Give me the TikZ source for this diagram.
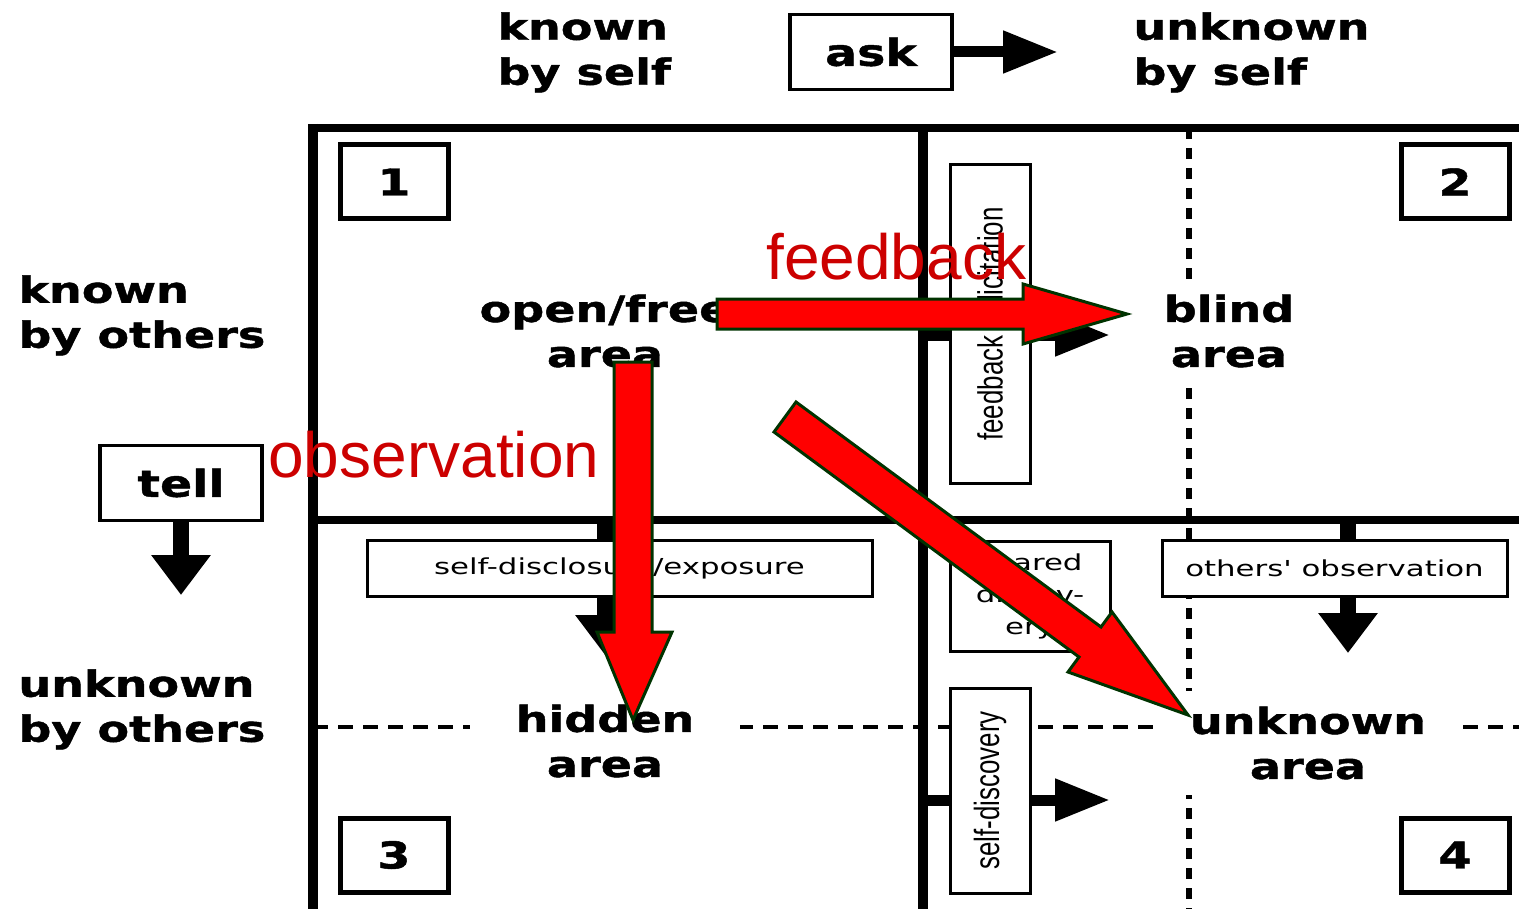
\documentclass[tikz,border=0pt]{standalone}
\usepackage{fontspec}
\setmainfont{DejaVu Sans}[FakeStretch=1.4]
\newfontfamily\headfont{DejaVu Sans Bold}[FakeStretch=1.28, FakeBold=1.2]
\newfontfamily\notefont{DejaVu Sans}[FakeStretch=1.4]
\newfontfamily\rotfont{Liberation Sans}[FakeStretch=0.74]
\newfontfamily\redfont{Liberation Sans}
\usetikzlibrary{arrows.meta}
\definecolor{markred}{RGB}{204,0,0}
\definecolor{edgegreen}{RGB}{0,51,0}
\tikzset{
  gridline/.style={line width=4pt, line join=miter},
  halfline/.style={line width=2pt, dash pattern=on 7.5pt off 5pt},
  halfup/.style={line width=3pt, dash pattern=on 5.5pt off 4.5pt},
  heading/.style={font=\headfont\fontsize{18}{22.5}\selectfont, align=left, inner sep=0pt, anchor=north west},
  area/.style={font=\headfont\fontsize{18}{22.5}\selectfont, align=center, fill=white, inner xsep=15pt, inner ysep=8pt},
  numbox/.style={draw, line width=2.5pt, minimum width=54pt, minimum height=37pt, fill=white, font=\headfont\fontsize{18.5}{20}\selectfont},
  actbox/.style={draw, line width=1.75pt, minimum width=81pt, minimum height=37.5pt, fill=white, font=\headfont\fontsize{18.5}{20}\selectfont},
  notebox/.style={draw, line width=1.5pt, fill=white, font=\notefont\fontsize{11}{16}\selectfont, align=center, inner sep=0pt},
  sidebox/.style={notebox, rotate=90, font=\rotfont\fontsize{17.5}{20}\selectfont},
  pushh/.style={line width=5.5pt, -{Triangle[length=27.5pt,width=20pt]}},
  pushv/.style={line width=8pt, -{Triangle[length=20pt,width=28.5pt]}},
  overarrow/.style={fill=red, draw=edgegreen, line width=1.5pt, line join=miter},
  overtext/.style={font=\redfont\fontsize{32}{36}\selectfont, text=markred, inner sep=0pt, anchor=base west}
}
\begin{document}
\begin{tikzpicture}[x=0.5pt, y=-0.5pt]
  \useasboundingbox (0,0) rectangle (1519,909);
  % window frame
  \draw[gridline] (1519,128) -- (308,128);
  \draw[gridline, line width=5pt] (313,124) -- (313,909);
  \draw[gridline, line width=5pt] (923,128) -- (923,909);
  \draw[gridline] (313,520) -- (1519,520);
  \draw[halfline] (313,727) -- (1519,727);
  \draw[halfup] (1189,128) -- (1189,909);

  % headings
  \node[heading] (kself) at (497,12) {known\\by self};
  \node[heading] (uself) at (1133,12) {unknown\\by self};
  \node[heading] (kothers) at (18,275) {known\\by others};
  \node[heading] (uothers) at (18,669) {unknown\\by others};

  \node[actbox] (ask) at (871,52) {ask};
  \node[actbox] (tell) at (181,483) {tell};
  \coordinate (askend) at (1058,52);
  \coordinate (tellend) at (181,595);
  \draw[pushh] (ask) -- (askend);
  \draw[pushv] (tell) -- (tellend);

  % moves between the panes
  \coordinate (fbfrom) at (923,335);
  \coordinate (fbto) at (1110,335);
  \coordinate (sdfrom) at (923,800);
  \coordinate (sdto) at (1110,800);
  \coordinate (exfrom) at (605,520);
  \coordinate (exto) at (605,655);
  \coordinate (obfrom) at (1348,520);
  \coordinate (obto) at (1348,653);
  \draw[pushh] (fbfrom) -- (fbto);
  \draw[pushh] (sdfrom) -- (sdto);
  \draw[pushv] (exfrom) -- (exto);
  \draw[pushv] (obfrom) -- (obto);

  \node[sidebox, minimum width=159pt, minimum height=40pt] (fbbox) at (990,324) {feedback solicitation};
  \node[sidebox, minimum width=102.5pt, minimum height=40pt] (sdbox) at (990,790.5) {self-discovery};
  \node[notebox, minimum width=252.5pt, minimum height=28pt] (exbox) at (619.5,568) {self-disclosure/exposure};
  \node[notebox, minimum width=172.5pt, minimum height=28pt] (obbox) at (1334.5,568) {others' observation};
  \node[notebox, minimum width=80pt, minimum height=55pt] (shbox) at (1030,596) {shared\\discov-\\ery};

  % panes
  \node[numbox] (n1) at (394,182) {1};
  \node[numbox] (n2) at (1455,182) {2};
  \node[numbox] (n3) at (394,855) {3};
  \node[numbox] (n4) at (1455,855) {4};
  \node[area] (open) at (605,331) {open/free\\area};
  \node[area] (blind) at (1229,331) {blind\\area};
  \node[area, inner xsep=23pt] (hidden) at (605,741) {hidden\\area};
  \node[area] (unknown) at (1308,743) {unknown\\area};

  % red marks on top
  \node[overtext] (fbtext) at (766,279) {feedback};
  \node[overtext] (obtext) at (268,477) {observation};
  \draw[overarrow] (717,299) -- (1023,299) -- (1023,284) -- (1127,314) -- (1023,344) -- (1023,329) -- (717,329) -- cycle;
  \draw[overarrow] (614,362) -- (652,362) -- (652,632) -- (672,632) -- (633,720) -- (597,632) -- (614,632) -- cycle;
  \draw[overarrow] (796,402) -- (1101,627) -- (1112,612) -- (1188,715) -- (1068,672) -- (1079,657) -- (774,432) -- cycle;
\end{tikzpicture}
\end{document}
